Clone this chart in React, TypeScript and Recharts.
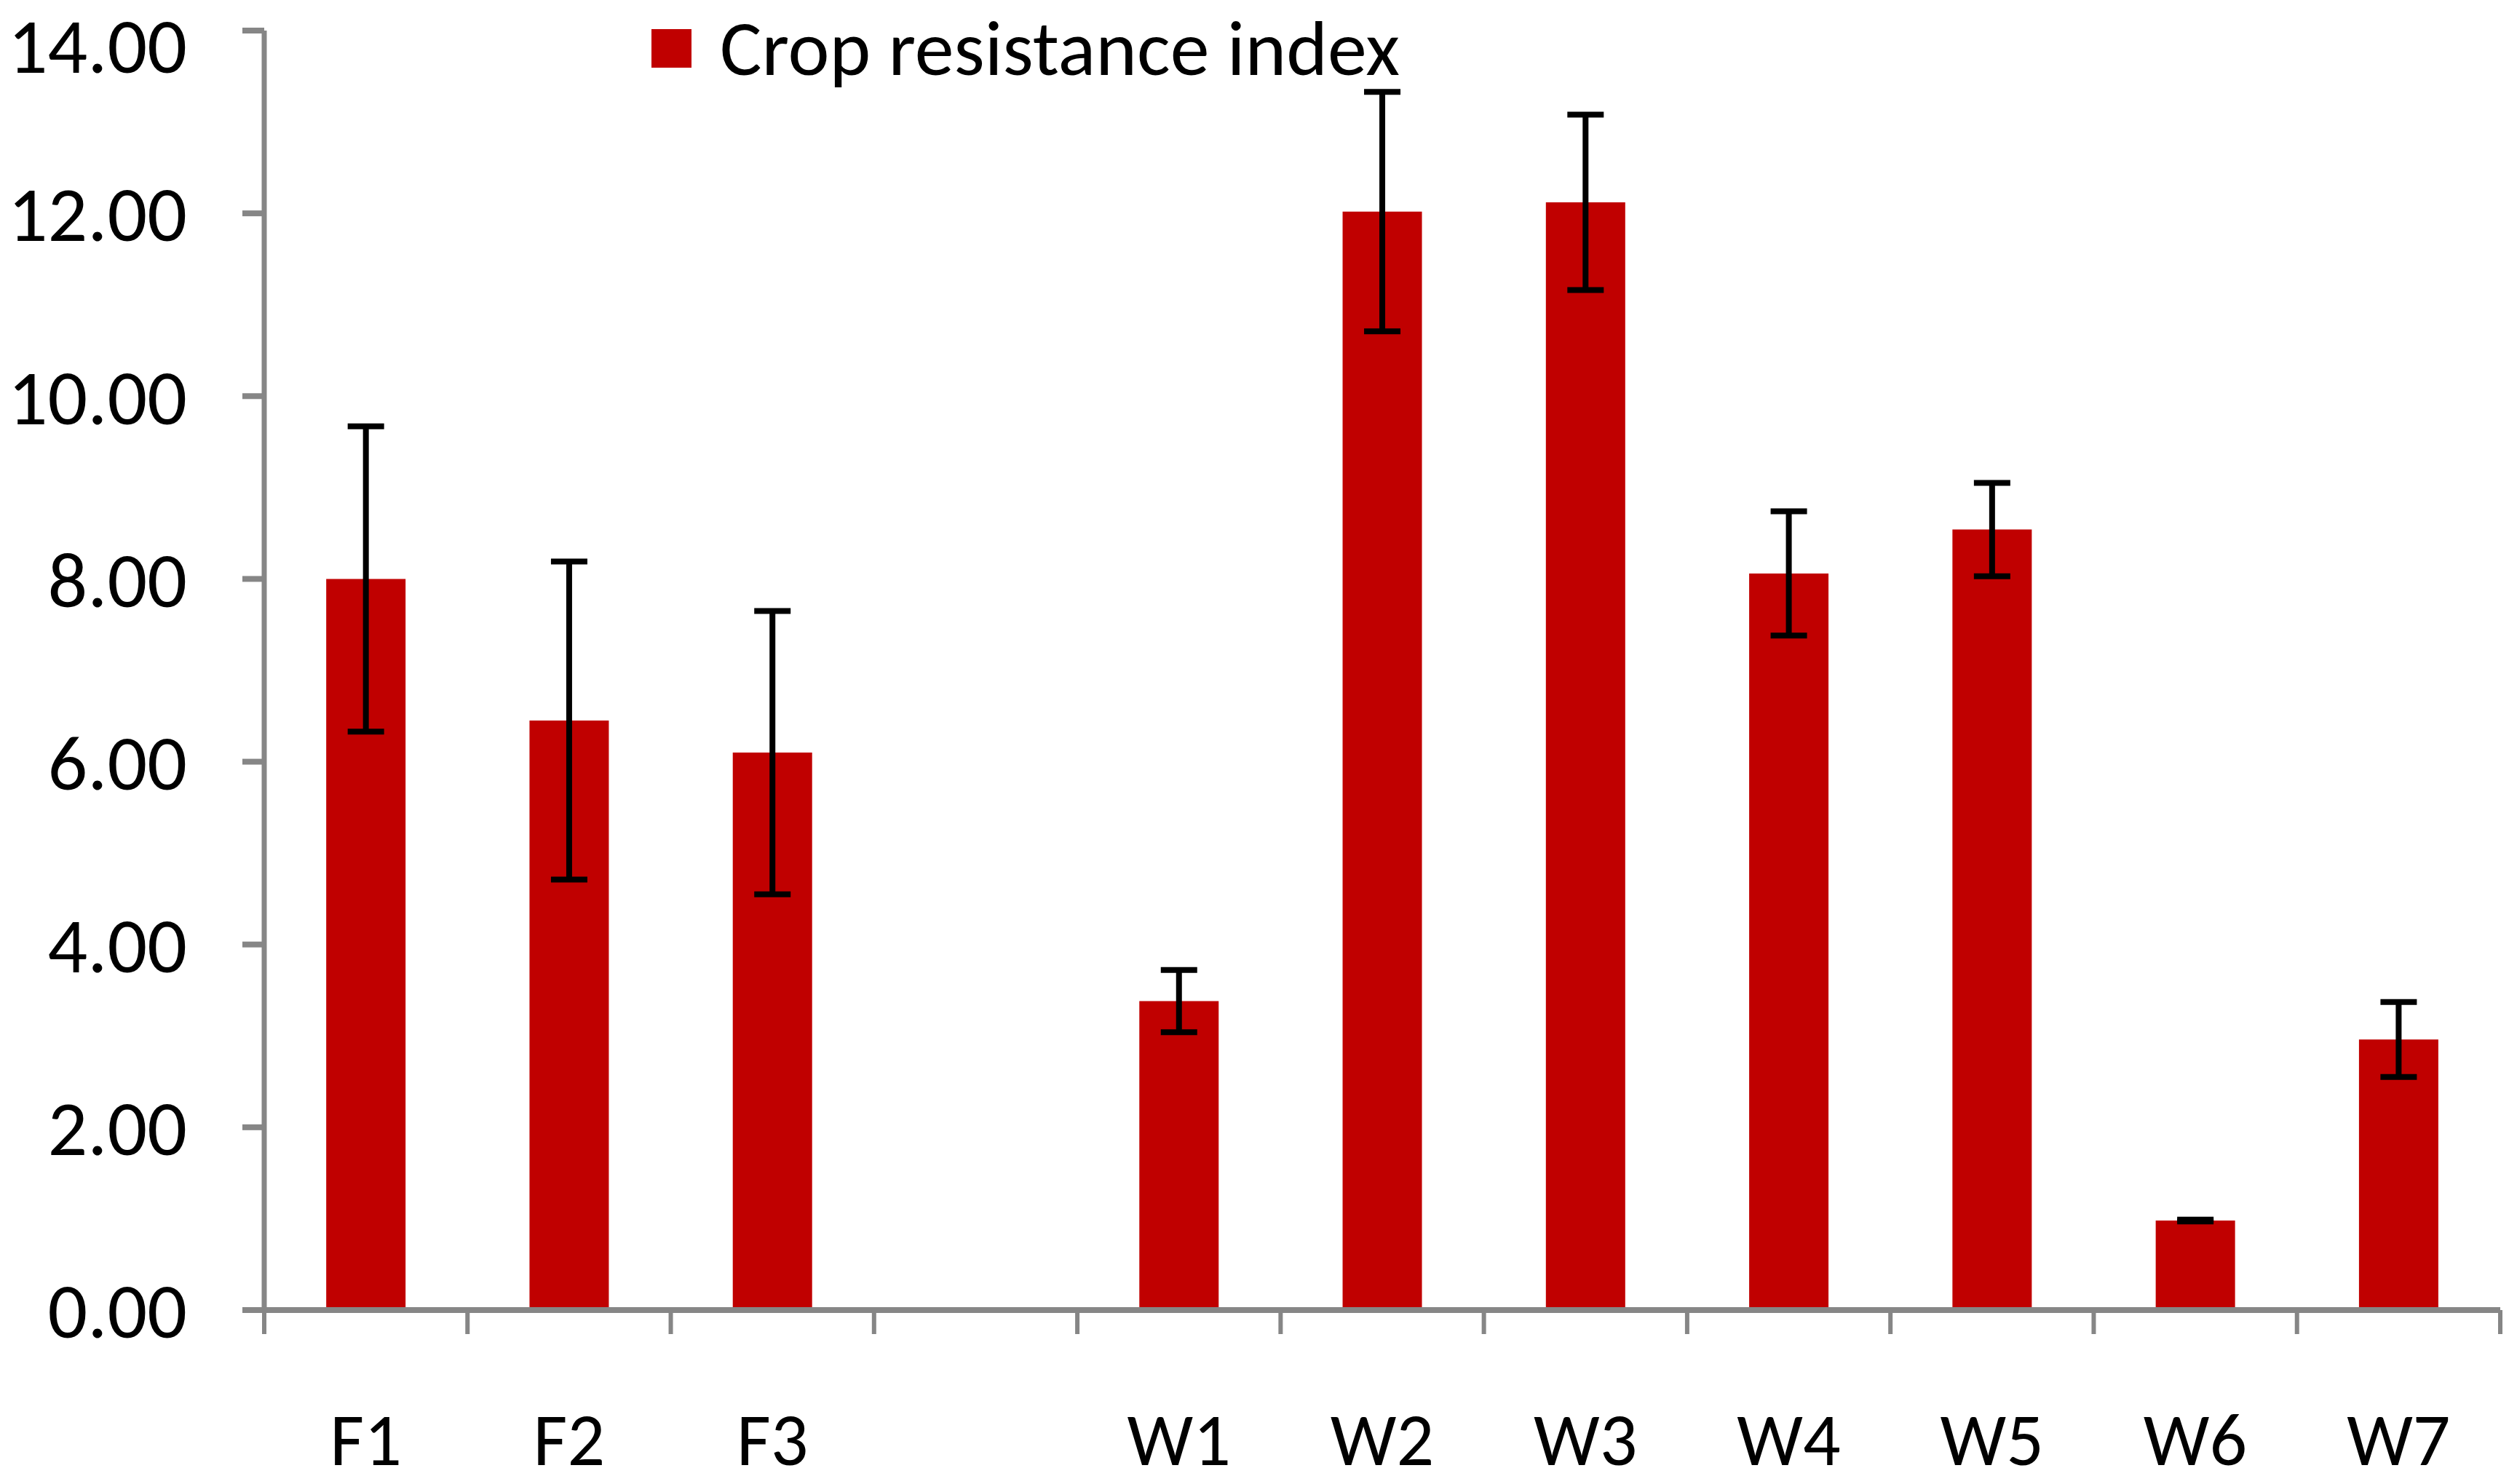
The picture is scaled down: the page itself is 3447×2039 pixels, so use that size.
import React from "react";
import { BarChart, Bar, XAxis, YAxis, ErrorBar, Legend } from "recharts";

const categories = ["F1", "F2", "F3", "", "W1", "W2", "W3", "W4", "W5", "W6", "W7"];
const resistance = [8.0, 6.45, 6.1, null, 3.38, 12.02, 12.12, 8.06, 8.54, 0.98, 2.96];
const resistanceErr = [1.67, 1.74, 1.55, null, 0.34, 1.31, 0.96, 0.68, 0.51, 0.01, 0.41];
const yTicks = [0, 2, 4, 6, 8, 10, 12, 14];

const data = categories.map((name, i) => ({
  name,
  value: resistance[i],
  err: resistanceErr[i],
}));

const W = 3447;
const H = 2039;
const margin = { top: 42, right: 12, bottom: 39, left: 63 };
const Y_AXIS_W = 300;
const X_AXIS_H = 200;
const FONT = "Carlito, Calibri, Lato, sans-serif";
const GREY = "#868686";
const RED = "#C00000";

const plotWidth = W - margin.left - margin.right - Y_AXIS_W;
const band = plotWidth / categories.length;

function XTick(props: any) {
  const { x, y, payload, index } = props;
  const top = y - 33;
  const last = index === categories.length - 1;
  return (
    <g>
      <line x1={x - band / 2} x2={x - band / 2} y1={top} y2={y} stroke={GREY} strokeWidth={6} />
      {last && (
        <line x1={x + band / 2} x2={x + band / 2} y1={top} y2={y} stroke={GREY} strokeWidth={6} />
      )}
      <text x={x} y={y + 180} textAnchor="middle" fontFamily={FONT} fontSize={102} fill="#000">
        {payload.value}
      </text>
    </g>
  );
}

function LegendBox() {
  return (
    <div style={{ display: "flex", alignItems: "center", height: 132, fontFamily: FONT }}>
      <span style={{ display: "inline-block", width: 55, height: 53, background: RED, marginRight: 39 }} />
      <span style={{ fontSize: 108, lineHeight: "130px", color: "#000", whiteSpace: "nowrap" }}>
        Crop resistance index
      </span>
    </div>
  );
}

export default function App() {
  return (
    <div style={{ position: "absolute", left: 0, top: 0, width: W, height: H, background: "#fff" }}>
      <BarChart width={W} height={H} data={data} margin={margin} barCategoryGap="30.5%">
        <XAxis
          dataKey="name"
          height={X_AXIS_H}
          tickLine={false}
          tickSize={33}
          tickMargin={0}
          axisLine={{ stroke: GREY, strokeWidth: 8 }}
          tick={<XTick />}
          interval={0}
        />
        <YAxis
          width={Y_AXIS_W}
          domain={[0, 14]}
          ticks={yTicks}
          tickFormatter={(v: number) => v.toFixed(2)}
          tickSize={30}
          tickMargin={76}
          tickLine={{ stroke: GREY, strokeWidth: 8 }}
          axisLine={{ stroke: GREY, strokeWidth: 7 }}
          tick={{ fontFamily: FONT, fontSize: 108, fill: "#000" }}
        />
        <Legend
          verticalAlign="middle"
          align="center"
          content={<LegendBox />}
          wrapperStyle={{ position: "absolute", left: 895, top: 0, width: 1300, height: 132 }}
        />
        <Bar dataKey="value" name="Crop resistance index" fill={RED} isAnimationActive={false}>
          <ErrorBar dataKey="err" width={25} stroke="#000" strokeWidth={8} direction="y" />
        </Bar>
      </BarChart>
    </div>
  );
}
